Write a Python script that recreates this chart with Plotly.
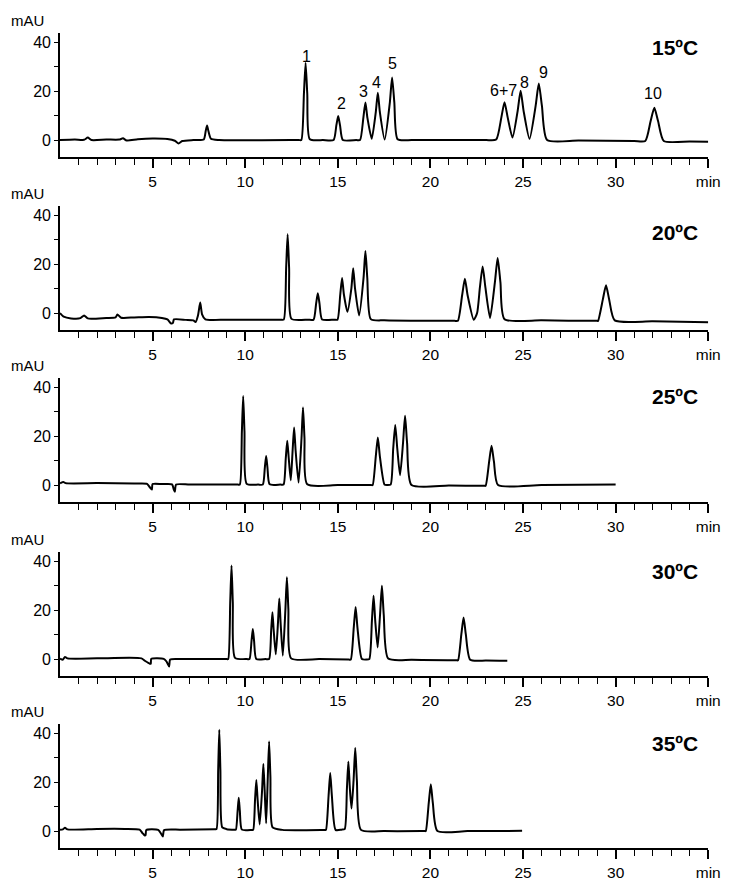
import plotly.graph_objects as go

# chromatograms: retention time (min) and signal (mAU)
temps = ["15ºC", "20ºC", "25ºC", "30ºC", "35ºC"]

t_15 = [0, 0.8, 1.3, 1.5, 1.7, 2.5, 3.2, 3.4, 3.6, 4.2, 5.0, 5.8, 6.2, 6.4, 6.6, 7.2, 7.76, 7.87, 7.94, 8.01, 8.15, 8.6,
        12.9, 13.03, 13.17, 13.26, 13.35, 13.49, 14.2,
        14.77, 14.92, 15.02, 15.12, 15.27, 16.0,
        16.2, 16.38, 16.49, 16.6, 16.83, 17.05, 17.16, 17.27, 17.53, 17.81, 17.93, 18.05, 18.23,
        19.0, 21.0, 23.0,
        23.55, 23.83, 24.0, 24.17, 24.43, 24.71, 24.87, 25.03, 25.35, 25.68, 25.85, 26.02, 26.3,
        28.0, 31.0, 31.6, 31.89, 32.09, 32.29, 32.6, 34.0, 35.0]
s_15 = [0, 0.2, 0.1, 1.0, 0.0, 0.2, 0.2, 0.7, -0.2, 0.3, 0.6, 0.4, -0.3, -1.4, -0.4, 0.0, 0.2, 3.8, 6.0, 3.8, 0.5, 0.0,
        0.0, 0.0, 19.0, 31.6, 19.0, 0.3, 0.0,
        0.0, 6.0, 9.9, 6.0, 0.0, 0.0,
        0.0, 9.2, 15.4, 9.0, 0.5, 11.5, 19.4, 11.5, 0.2, 15.5, 25.7, 15.5, 0.3,
        0.0, 0.0, 0.0,
        0.2, 9.3, 15.5, 9.3, 1.0, 12.0, 20.2, 12.0, 0.5, 14.0, 23.2, 14.0, 0.0,
        -0.2, -0.4, -0.4, 7.8, 13.2, 7.8, -0.4, -0.6, -0.7]

t_20 = [0, 0.2, 0.6, 1.1, 1.3, 1.5, 2.5, 3.0, 3.1, 3.3, 4.0, 4.8, 5.5, 5.8, 6.0, 6.1, 6.15, 6.8, 7.2, 7.32, 7.45, 7.57,
        7.67, 7.85, 9.0, 11.9,
        12.08, 12.21, 12.29, 12.37, 12.5, 13.4,
        13.69, 13.83, 13.92, 14.01, 14.15, 14.8,
        14.98, 15.13, 15.23, 15.33, 15.52, 15.73, 15.83, 15.93, 16.15, 16.39, 16.49, 16.59, 16.78,
        17.5, 20.0, 21.3,
        21.48, 21.71, 21.86, 22.01, 22.34, 22.52, 22.67, 22.82, 22.97, 23.22, 23.48, 23.63, 23.78, 24.0,
        26.0, 29.0, 29.05, 29.31, 29.48, 29.65, 29.95, 32.0, 35.0]
s_20 = [0, -1.5, -2.2, -2.1, -1.0, -2.2, -2.0, -1.8, -0.6, -1.9, -1.8, -1.6, -2.0, -2.6, -4.3, -4.0, -2.6, -2.8, -3.0,
        -3.7, -1.0, 4.3, -0.5, -2.6, -2.7, -2.7,
        -2.7, 18.5, 32.3, 18.5, -2.4, -2.7,
        -2.7, 4.0, 8.1, 4.0, -2.6, -2.7,
        -2.7, 7.5, 14.4, 7.5, 0.5, 10.0, 18.4, 10.0, -1.0, 14.5, 25.5, 14.5, -2.5,
        -3.0, -3.2, -3.2,
        -3.2, 7.2, 14.1, 7.2, -2.8, 0.0, 10.4, 19.1, 10.4, -2.0, 12.6, 22.6, 12.6, -2.5,
        -3.0, -3.2, -3.2, 5.6, 11.4, 5.6, -3.0, -3.4, -3.8]

t_25 = [0, 0.18, 0.3, 2.0, 4.0, 4.7, 4.85, 4.96, 5.0, 5.5, 6.05, 6.15, 6.2, 6.27, 7.0, 9.6,
        9.71, 9.82, 9.89, 9.96, 10.08, 10.7,
        10.95, 11.06, 11.13, 11.2, 11.32, 11.9,
        12.07, 12.19, 12.27, 12.35, 12.46, 12.56, 12.64, 12.72, 12.88, 13.04, 13.12, 13.2, 13.35,
        15.0, 16.8,
        16.88, 17.05, 17.16, 17.27, 17.52, 17.65,
        17.85, 17.99, 18.1, 18.21, 18.36, 18.52, 18.63, 18.74, 18.98,
        21.0, 22.9, 22.98, 23.17, 23.3, 23.43, 23.65, 26.0, 30.0]
s_25 = [0.7, 1.3, 0.8, 0.8, 0.6, 0.5, -0.9, -1.8, 0.4, 0.4, 0.3, -2.0, -2.7, 0.2, 0.2, 0.2,
        0.2, 22.0, 36.5, 22.0, 0.5, 0.2,
        0.2, 7.2, 11.9, 7.2, 0.3, 0.2,
        0.2, 11.0, 18.2, 11.0, 2.0, 14.3, 23.6, 14.3, 1.0, 19.3, 31.8, 19.3, 0.3,
        0.0, 0.0,
        0.0, 11.8, 19.5, 11.8, 0.2, 0.0,
        0.2, 15.0, 24.7, 15.0, 4.0, 17.2, 28.4, 17.2, 0.0,
        -0.2, -0.3, -0.3, 9.6, 16.1, 9.6, 0.0, 0.0, 0.2]

t_30 = [0, 0.15, 0.27, 0.4, 2.0, 4.4, 4.6, 4.85, 4.9, 4.93, 5.6, 5.75, 5.89, 5.95, 6.5, 9.0,
        9.08, 9.19, 9.26, 9.33, 9.45, 10.1,
        10.23, 10.34, 10.41, 10.48, 10.6, 11.1,
        11.29, 11.4, 11.47, 11.54, 11.65, 11.77, 11.84, 11.91, 12.03, 12.17, 12.25, 12.33, 12.48,
        14.0, 15.6,
        15.7, 15.86, 15.96, 16.06, 16.3, 16.55,
        16.7, 16.84, 16.93, 17.02, 17.15, 17.28, 17.38, 17.48, 17.72,
        19.0, 21.4, 21.49, 21.67, 21.79, 21.91, 22.15, 23.0, 24.15]
s_30 = [0.2, -0.3, 0.9, 0.3, 0.3, 0.3, -0.8, -1.9, -1.9, 0.1, 0.1, -1.0, -3.0, -0.2, 0.0, 0.0,
        0.0, 23.2, 38.4, 23.2, 0.5, 0.0,
        0.0, 7.4, 12.3, 7.4, 0.0, 0.0,
        0.0, 11.6, 19.2, 11.6, 2.0, 15.0, 24.9, 15.0, 1.4, 20.4, 33.6, 20.4, 0.3,
        0.0, -0.2,
        -0.2, 12.9, 21.4, 12.9, 0.0, -0.2,
        0.0, 15.7, 26.0, 15.7, 4.8, 18.2, 30.1, 18.2, 0.2,
        -0.3, -0.5, -0.5, 10.2, 17.1, 10.2, -0.3, -0.6, -0.7]

t_35 = [0, 0.15, 0.27, 0.4, 2.0, 3.5, 4.3, 4.45, 4.56, 4.62, 4.66, 5.3, 5.45, 5.55, 5.62, 6.5, 8.35,
        8.45, 8.54, 8.6, 8.66, 8.76, 9.0, 9.45,
        9.5, 9.59, 9.65, 9.71, 9.82, 10.35,
        10.43, 10.53, 10.6, 10.67, 10.78, 10.91, 10.98, 11.05, 11.13, 11.22, 11.29, 11.36, 11.48,
        12.0, 14.3,
        14.36, 14.5, 14.59, 14.68, 14.88, 15.2,
        15.37, 15.49, 15.57, 15.65, 15.74, 15.85, 15.94, 16.03, 16.25,
        17.5, 19.7, 19.75, 19.91, 20.02, 20.13, 20.38, 22.0, 24.95]
s_35 = [0.5, 0.7, 1.4, 0.7, 0.9, 0.9, 0.6, -0.8, -1.7, -1.7, 0.5, 0.5, -1.0, -2.2, 0.4, 0.6, 0.8,
        0.8, 25.0, 41.6, 25.0, 1.5, 0.8, 0.6,
        0.6, 8.3, 13.7, 8.3, 0.6, 0.5,
        0.5, 12.8, 21.0, 12.8, 2.7, 16.7, 27.5, 16.7, 3.2, 22.3, 36.8, 22.3, 1.5,
        0.5, 0.5,
        0.5, 14.4, 23.8, 14.4, 0.5, 0.6,
        0.8, 17.3, 28.6, 17.5, 9.3, 20.7, 34.1, 20.7, 0.5,
        0.0, 0.0, 0.0, 11.6, 19.2, 11.6, 0.0, 0.0, 0.1]

# peak numbering on the 15ºC trace
peak_names = ["1", "2", "3", "4", "5", "6+7", "8", "9", "10"]
peak_label_t = [13.3, 15.19, 16.4, 17.07, 17.94, 23.94, 25.09, 26.12, 32.0]
peak_label_y = [34.1, 15.0, 19.8, 23.5, 31.4, 20.2, 23.8, 27.6, 18.9]

x_major = [5, 10, 15, 20, 25, 30, 35]
x_major_text = ["5", "10", "15", "20", "25", "30", "min"]
x_minor = [m for m in range(1, 35) if m % 5]

times = [t_15, t_20, t_25, t_30, t_35]
signals = [s_15, s_20, s_25, s_30, s_35]

W, H = 735, 881


def px_x(p):
    return p / W


def px_y(p):
    return 1 - p / H


# (top, bottom) pixel rows of each panel's plotting area
panel_px = [(33, 158), (207, 332), (380, 505), (555, 680), (728, 853)]
temp_label_px = [48, 234, 399, 575, 748]

fig = go.Figure()
layout = {}
annotations = []
for i, (t, s) in enumerate(zip(times, signals)):
    n = "" if i == 0 else str(i + 1)
    top, bot = panel_px[i]
    fig.add_trace(go.Scatter(
        x=t, y=s, mode="lines",
        line=dict(color="black", width=2.0, shape="spline", smoothing=0.6),
        xaxis="x" + n, yaxis="y" + n, showlegend=False, hoverinfo="x+y",
    ))
    layout["xaxis" + n] = dict(
        domain=[px_x(61), px_x(720)], anchor="y" + n, range=[0, 35],
        tickmode="array", tickvals=x_major, ticktext=x_major_text,
        ticks="outside", ticklen=9, tickwidth=1.5, tickcolor="black",
        tickfont=dict(size=15.5),
        minor=dict(tickmode="array", tickvals=x_minor, ticks="outside",
                   ticklen=6, tickwidth=1.3, tickcolor="black", showgrid=False),
        showline=True, linecolor="black", linewidth=1.6,
        showgrid=False, zeroline=False, fixedrange=True,
    )
    layout["yaxis" + n] = dict(
        domain=[px_y(bot), px_y(top)], anchor="x" + n, range=[-7, 44],
        tickmode="array", tickvals=[0, 10, 20, 30, 40], ticktext=["0", "", "20", "", "40"],
        ticks="outside", ticklen=4, tickwidth=1.3, tickcolor="black",
        tickfont=dict(size=16),
        showline=True, linecolor="black", linewidth=1.6,
        showgrid=False, zeroline=False, fixedrange=True,
    )
    annotations.append(dict(
        text="mAU", xref="paper", yref="paper", x=px_x(9), y=px_y(top - 12),
        xanchor="left", yanchor="middle", showarrow=False, font=dict(size=15),
    ))
    annotations.append(dict(
        text="<b>" + temps[i] + "</b>", xref="paper", yref="paper",
        x=px_x(712), y=px_y(temp_label_px[i]),
        xanchor="right", yanchor="middle", showarrow=False, font=dict(size=21),
    ))

for name, lt, ly in zip(peak_names, peak_label_t, peak_label_y):
    annotations.append(dict(
        text=name, x=lt, y=ly, xref="x", yref="y",
        showarrow=False, font=dict(size=16), xanchor="center", yanchor="middle",
    ))

fig.update_layout(
    **layout,
    annotations=annotations,
    width=W, height=H,
    margin=dict(l=0, r=0, t=0, b=0),
    paper_bgcolor="white", plot_bgcolor="white",
    font=dict(family="Arial, Liberation Sans, sans-serif", size=15, color="black"),
    showlegend=False,
)

# pin the plot to the page corner so the default body margin does not push it
pin_plot = (
    "var gd = document.getElementById('{plot_id}');"
    "document.body.style.margin = '0';"
    "gd.style.position = 'fixed'; gd.style.left = '0px'; gd.style.top = '0px';"
)

fig.write_html("out.html", post_script=pin_plot, config={"displayModeBar": False})
